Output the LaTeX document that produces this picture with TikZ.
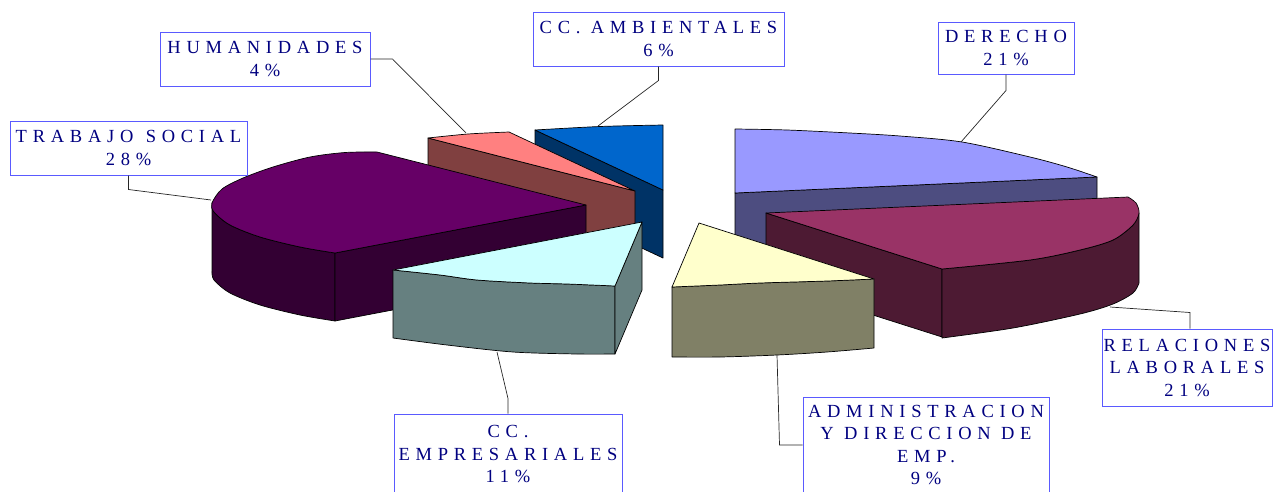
\documentclass[tikz,border=0pt]{standalone}
\usepackage{fontspec}
\newfontfamily\lblfont[LetterSpace=31]{Liberation Serif}
\definecolor{txt}{RGB}{0,0,128}
\definecolor{bord}{RGB}{90,90,255}
\definecolor{ambT}{HTML}{0066CC}
\definecolor{ambS}{HTML}{003366}
\definecolor{humT}{HTML}{FF8080}
\definecolor{humS}{HTML}{804040}
\definecolor{traT}{HTML}{660066}
\definecolor{traS}{HTML}{330033}
\definecolor{empT}{HTML}{CCFFFF}
\definecolor{empS}{HTML}{668080}
\definecolor{derT}{HTML}{9999FF}
\definecolor{derS}{HTML}{4D4D80}
\definecolor{relT}{HTML}{993366}
\definecolor{relS}{HTML}{4D1A33}
\definecolor{admT}{HTML}{FFFFCC}
\definecolor{admS}{HTML}{808066}
\begin{document}
\begin{tikzpicture}[x=1pt,y=-1pt,
  edge/.style={draw=black,line width=0.7pt,line join=round},
  lbl/.style={draw=bord,line width=1pt,fill=white,inner sep=0pt,align=center,text=txt,
    font=\lblfont\fontsize{18.5pt}{22.5pt}\selectfont},
  lead/.style={draw=black!85,line width=0.7pt}]
\path[use as bounding box] (0,0) rectangle (1273,491);
\clip (0,0) rectangle (1273,491);

% CC. AMBIENTALES
\path[edge,fill=ambS] (535,130) -- (663,190) -- (663,258) -- (535,198) -- cycle;
\path[edge,fill=ambT] plot[smooth] coordinates {(535,130) (600,126.5) (663,125)} -- (663,190) -- cycle;

% HUMANIDADES
\path[edge,fill=humS] (428,138) -- (635,191) -- (635,259) -- (428,206) -- cycle;
\path[edge,fill=humT] plot[smooth] coordinates {(428,138) (468,134) (509,132)} -- (635,191) -- cycle;

% TRABAJO SOCIAL
\path[edge,fill=traS] plot[smooth] coordinates {(212,203) (214,212) (230,225) (260,237) (300,247) (335,253)}
  -- (335,321) -- plot[smooth] coordinates {(335,321) (300,315) (260,305) (230,293) (214,280) (212,271)} -- cycle;
\path[edge,fill=traS] (335,253) -- (586,205) -- (586,273) -- (335,321) -- cycle;
\path[edge,fill=traT] plot[smooth] coordinates {(335,253) (300,247) (260,237) (230,225) (214,212) (212,203) (222,189) (243,178) (273,167) (310,157) (345,152.5) (377,152)} -- (586,205) -- cycle;

% CC. EMPRESARIALES
\path[edge,fill=empS] plot[smooth] coordinates {(393,270) (440,275) (477,280) (530,283) (567,284) (615,286)}
  -- (615,354) -- plot[smooth] coordinates {(615,354) (577,354) (513,352) (447,345) (393,338)} -- cycle;
\path[edge,fill=empS] (615,286) -- (642,222) -- (642,290) -- (615,354) -- cycle;
\path[edge,fill=empT] (642,222) -- plot[smooth] coordinates {(393,270) (440,275) (477,280) (530,283) (567,284) (615,286)} -- cycle;

% DERECHO
\path[edge,fill=derS] (735,193) -- (1097,177) -- (1097,245) -- (735,261) -- cycle;
\path[edge,fill=derT] (735,193) -- plot[smooth] coordinates {(735,129) (787,130) (850,133) (900,136) (962,142) (1030,157) (1067,167) (1097,177)} -- cycle;

% RELACIONES LABORALES
\path[edge,fill=relS] (766,213) -- (942,269) -- (942,337) -- (766,281) -- cycle;
\path[edge,fill=relS] plot[smooth] coordinates {(942,269) (1030,260) (1080,250) (1113,240) (1133,225) (1139,213)}
  -- (1139,283) -- plot[smooth] coordinates {(1139,283) (1133,293) (1113,304) (1080,314) (1013,328) (942,338)} -- cycle;
\path[edge,fill=relT] (766,213) -- (1128,197) -- plot[smooth] coordinates {(1128,197) (1136,203) (1139,213) (1133,225) (1113,240) (1080,250) (1030,260) (942,269)} -- cycle;

% ADMINISTRACION
\path[edge,fill=admS] plot[smooth] coordinates {(672,287) (720,285) (760,283) (827,281) (874,279)}
  -- (874,348) -- plot[smooth] coordinates {(874,348) (827,352) (777,355) (720,357) (672,357)} -- cycle;
\path[edge,fill=admT] (699,223) -- plot[smooth] coordinates {(672,287) (720,285) (760,283) (827,281) (874,279)} -- cycle;

% labels
\node[lbl,minimum width=210pt,minimum height=54pt] (hum) at (265,59) {HUMANIDADES\\4\%};
\node[lbl,minimum width=237pt,minimum height=54pt] (tra) at (128.5,148) {TRABAJO\hspace{2pt} SOCIAL\\28\%};
\node[lbl,minimum width=251pt,minimum height=54pt] (amb) at (658.5,39) {CC. AMBIENTALES\\6\%};
\node[lbl,minimum width=136pt,minimum height=52pt] (der) at (1006,48) {DERECHO\\21\%};
\node[lbl,minimum width=170pt,minimum height=77pt] (rel) at (1187,367.5) {RELACIONES\\LABORALES\\21\%};
\node[lbl,minimum width=246pt,minimum height=96pt] (adm) at (926,445) {ADMINISTRACION\\Y DIRECCION DE\\EMP.\\9\%};
\node[lbl,minimum width=228pt,minimum height=80pt] (emp) at (508,454) {CC.\\EMPRESARIALES\\11\%};

% leader lines
\coordinate (humtip) at (466,133);
\coordinate (tratip) at (211,200);
\coordinate (ambtip) at (598,126);
\coordinate (dertip) at (961,142);
\coordinate (reltip) at (1110,307);
\coordinate (admtip) at (777,355);
\coordinate (emptip) at (497,352);
\draw[lead] (hum.east) -- ++(22,0) -- (humtip);
\draw[lead] (tra.south) -- ++(0,14) -- (tratip);
\draw[lead] (amb.south) -- ++(0,14) -- (ambtip);
\draw[lead] (der.south) -- ++(0,16) -- (dertip);
\draw[lead] ([xshift=3pt]rel.north) -- ++(0,-16) -- (reltip);
\draw[lead] (adm.west) -- ++(-23,0) -- (admtip);
\draw[lead] (emp.north) -- ++(0,-15) -- (emptip);
\end{tikzpicture}
\end{document}
